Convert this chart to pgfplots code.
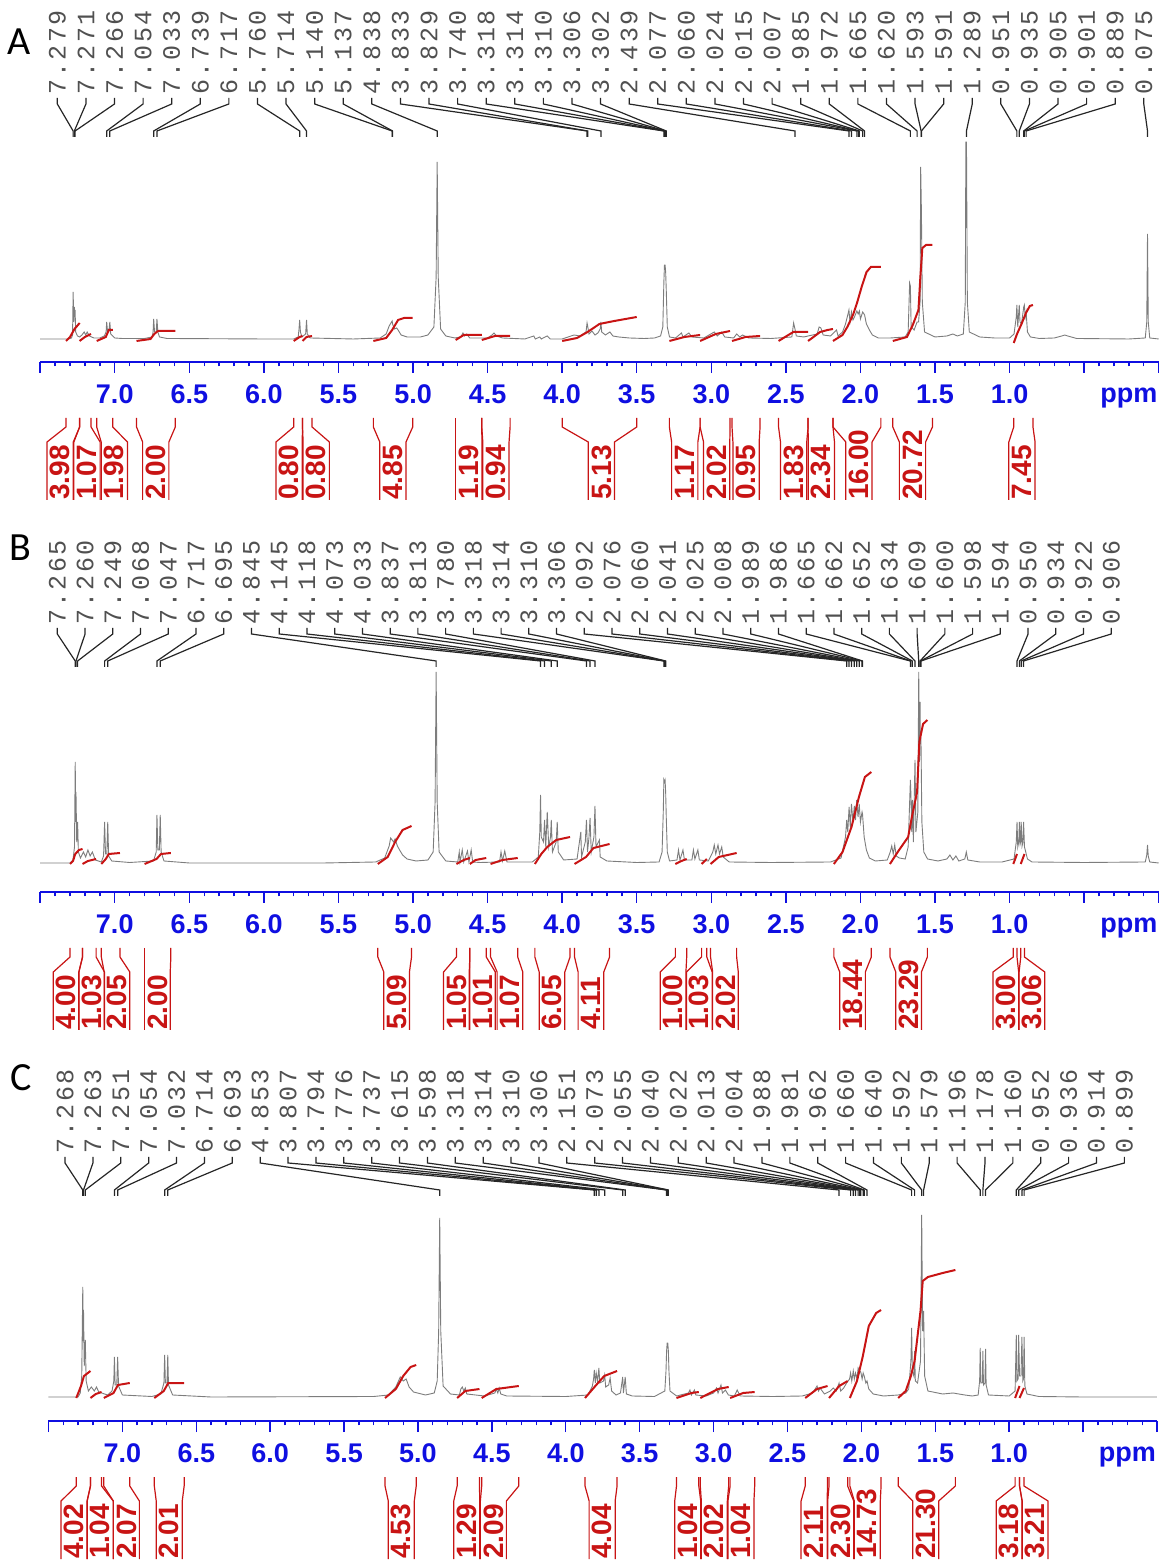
\documentclass[border=0pt]{standalone}
\usepackage{fontspec}
\setmainfont{Liberation Sans}
\newfontfamily\lblfont{Liberation Mono}
\newfontfamily\letterf{Carlito}
\usepackage{pgfplots}
\pgfplotsset{compat=1.18}
\definecolor{axblue}{RGB}{15,15,225}
\definecolor{intred}{RGB}{200,20,20}
\definecolor{specgray}{RGB}{125,125,125}
\definecolor{lblgray}{RGB}{80,80,80}
\newcommand\ticklblfont{\bfseries\fontsize{13.5}{15}\selectfont}
\newcommand\pkc[1]{\makebox[8.6pt]{#1}}
\def\pkk#1#2#3#4#5{\pkc{#1}\pkc{#2}\pkc{#3}\pkc{#4}\pkc{#5}}
\newcommand\pk[1]{\pkk#1}
\tikzset{
 conn/.style={black!85, line width=0.6pt},
 plbl/.style={rotate=90, anchor=west, inner sep=0pt, font=\lblfont\fontsize{12.5}{12.5}\selectfont, text=lblgray},
 ibr/.style={intred, line width=0.6pt},
 ilbl/.style={rotate=90, anchor=west, inner sep=0pt, font=\bfseries\fontsize{14}{14}\selectfont, text=intred},
}
% peak label: #1 index, #2 ppm
\newcommand\pkl[2]{%
 \pgfmathsetmacro\lx{\Lzero-#1*\Lstep}%
 \edef\tmp{\noexpand\draw[conn] (axis cs:\lx,264) -- (axis cs:\lx,258) -- (axis cs:#2,231) -- (axis cs:#2,225);
 \noexpand\node[plbl] at (axis cs:\lx,266) {\noexpand\pk{#2}};}\tmp}
% integral bracket: #1 left ppm, #2 right ppm, #3 box centre, #4 value
\newcommand\intg[4]{%
 \pgfmathsetmacro\bl{#3+\bw}\pgfmathsetmacro\br{#3-\bw}%
 \edef\tmp{\noexpand\draw[ibr] (axis cs:#1,-56) -- (axis cs:#1,-65) -- (axis cs:\bl,-80) -- (axis cs:\bl,-138);
 \noexpand\draw[ibr] (axis cs:#2,-56) -- (axis cs:#2,-65) -- (axis cs:\br,-80) -- (axis cs:\br,-138);
 \noexpand\node[ilbl] at (axis cs:#3,-138) {#4};}\tmp}
\pgfplotsset{nmr/.style={
  scale only axis, anchor=south west, height=115pt,
  xmin=0, xmax=7.5, ymin=0, ymax=230, x dir=reverse,
  axis x line*=bottom, axis y line=none, clip=false,
  x axis line style={axblue, line width=0.9pt},
  xtick={0,0.5,1,1.5,2,2.5,3,3.5,4,4.5,5,5.5,6,6.5,7,7.5},
  xticklabels={,,1.0,1.5,2.0,2.5,3.0,3.5,4.0,4.5,5.0,5.5,6.0,6.5,7.0,},
  minor x tick num=4,
  xtick align=outside,
  major tick length=5.5pt, minor tick length=2.2pt,
  tick style={axblue, line width=0.7pt},
  xticklabel style={font=\ticklblfont, text=axblue, anchor=center, yshift=-10.5pt},
}}
\begin{document}
\begin{tikzpicture}
\useasboundingbox (0,0) rectangle (582pt,784pt);
\node[font=\letterf\fontsize{20}{20}\selectfont] at (9.5pt,763pt) {A};
\node[font=\letterf\fontsize{20}{20}\selectfont] at (10pt,510pt) {B};
\node[font=\letterf\fontsize{20}{20}\selectfont] at (10.5pt,245pt) {C};

% ================= PANEL A =================
\begin{axis}[nmr, at={(20.1pt,603pt)}, width=559.25pt]
\addplot[specgray, line width=0.45pt] coordinates {
(7.5,23)(7.31,23)(7.29,24)(7.283,27)(7.279,70)(7.275,40)(7.271,55)(7.268,45)(7.266,52)(7.262,30)(7.25,26)(7.235,25)(7.22,27)(7.205,30)(7.195,27)(7.185,30)(7.17,26)(7.14,24)(7.10,24)(7.07,26)(7.058,30)(7.054,40)(7.048,30)(7.040,30)(7.033,40)(7.027,28)(7.00,24)(6.95,23.5)(6.80,23.5)(6.75,25)(6.743,30)(6.739,43)(6.733,30)(6.722,30)(6.717,43)(6.711,30)(6.70,25)(6.65,23.5)(6.0,23)(5.80,23)(5.77,25)(5.765,32)(5.760,42)(5.755,30)(5.745,25)(5.72,28)(5.714,42)(5.709,28)(5.69,24)(5.40,23)(5.22,24)(5.18,28)(5.16,36)(5.14,41)(5.137,38)(5.125,33)(5.11,34)(5.10,32)(5.08,27)(5.04,25)(4.95,25)(4.90,27)(4.86,35)(4.845,85)(4.838,200)(4.831,85)(4.815,33)(4.78,26)(4.72,24)(4.68,25)(4.665,29)(4.655,26)(4.64,28)(4.62,24)(4.5,24)(4.47,27)(4.457,29)(4.44,26)(4.40,24)(4.25,23)(4.19,26)(4.18,23)(4.15,25)(4.14,23)(4.10,26)(4.08,23)(4.0,23)(3.96,25)(3.92,27)(3.88,26)(3.84,30)(3.833,39)(3.829,36)(3.82,28)(3.80,31)(3.78,27)(3.76,29)(3.745,33)(3.740,40)(3.735,30)(3.71,27)(3.68,30)(3.66,26)(3.62,25)(3.55,24)(3.45,23.5)(3.38,24)(3.34,26)(3.325,35)(3.318,80)(3.314,97)(3.310,97)(3.306,90)(3.302,72)(3.295,35)(3.28,25)(3.24,24)(3.20,29)(3.19,25)(3.15,29)(3.13,25)(3.05,24)(2.98,30)(2.96,26)(2.93,30)(2.91,25)(2.85,24)(2.83,28)(2.81,25)(2.79,27)(2.75,24)(2.6,23.5)(2.46,25)(2.448,39)(2.439,33)(2.43,26)(2.38,25)(2.29,28)(2.277,35)(2.265,34)(2.25,27)(2.20,26)(2.16,32)(2.15,26)(2.12,30)(2.10,38)(2.09,44)(2.077,52)(2.07,40)(2.060,50)(2.05,42)(2.04,45)(2.024,51)(2.015,48)(2.007,51)(2.00,43)(1.985,50)(1.972,47)(1.96,38)(1.94,32)(1.92,27)(1.88,24)(1.80,24)(1.70,25)(1.68,30)(1.670,79)(1.665,76)(1.66,35)(1.64,32)(1.625,38)(1.620,40)(1.61,40)(1.60,60)(1.596,195)(1.591,150)(1.585,60)(1.57,30)(1.50,25)(1.42,26)(1.38,28)(1.35,26)(1.31,28)(1.297,60)(1.293,220)(1.289,220)(1.283,60)(1.27,30)(1.20,25)(1.10,24)(1.0,24)(0.97,28)(0.955,45)(0.951,57)(0.945,35)(0.935,57)(0.93,40)(0.92,38)(0.905,55)(0.901,57)(0.895,45)(0.889,50)(0.88,30)(0.86,25)(0.80,23.5)(0.70,24)(0.65,26)(0.63,27)(0.61,26)(0.55,23.5)(0.2,23)(0.09,24)(0.08,40)(0.075,128)(0.070,40)(0.06,24)(0.0,23)};
\addplot[intred, line width=1pt] coordinates {(7.327,21)(7.30,25)(7.27,33)(7.235,39)};
\addplot[intred, line width=1pt] coordinates {(7.236,21)(7.20,25)(7.159,28)};
\addplot[intred, line width=1pt] coordinates {(7.121,21)(7.06,25)(7.04,32)(7.013,32)};
\addplot[intred, line width=1pt] coordinates {(6.854,21)(6.76,23)(6.735,28)(6.71,31)(6.65,31)(6.594,31)};
\addplot[intred, line width=1pt] coordinates {(5.80,21)(5.76,25)(5.741,26)};
\addplot[intred, line width=1pt] coordinates {(5.741,21)(5.714,25)(5.677,26)};
\addplot[intred, line width=1pt] coordinates {(5.266,21)(5.18,24)(5.14,32)(5.10,42)(5.06,44)(5.002,44)};
\addplot[intred, line width=1pt] coordinates {(4.714,22)(4.66,27)(4.60,27)(4.539,27)};
\addplot[intred, line width=1pt] coordinates {(4.539,22)(4.45,26)(4.349,26)};
\addplot[intred, line width=1pt] coordinates {(4.0,21)(3.9,24)(3.83,30)(3.75,38)(3.65,41)(3.5,45)};
\addplot[intred, line width=1pt] coordinates {(3.281,21)(3.18,25)(3.075,27)};
\addplot[intred, line width=1pt] coordinates {(3.075,21)(2.97,28)(2.874,31)};
\addplot[intred, line width=1pt] coordinates {(2.861,21)(2.77,25)(2.673,26)};
\addplot[intred, line width=1pt] coordinates {(2.549,21)(2.45,30)(2.40,30)(2.351,30)};
\addplot[intred, line width=1pt] coordinates {(2.351,21)(2.27,30)(2.22,32)(2.184,33)};
\addplot[intred, line width=1pt] coordinates {(2.184,21)(2.12,27)(2.088,35)(2.05,47)(2.023,59)(1.99,76)(1.959,90)(1.93,95)(1.863,95)};
\addplot[intred, line width=1pt] coordinates {(1.783,21)(1.688,25)(1.649,37)(1.611,52)(1.598,85)(1.585,114)(1.56,117)(1.517,117)};
\addplot[intred, line width=1pt] coordinates {(0.972,19)(0.95,28)(0.92,38)(0.89,49)(0.864,56)(0.843,57)};
\def\Lzero{7.385}\def\Lstep{0.19171}
\pkl{0}{7.279}\pkl{1}{7.271}\pkl{2}{7.266}\pkl{3}{7.054}\pkl{4}{7.033}\pkl{5}{6.739}\pkl{6}{6.717}\pkl{7}{5.760}\pkl{8}{5.714}\pkl{9}{5.140}\pkl{10}{5.137}\pkl{11}{4.838}\pkl{12}{3.833}\pkl{13}{3.829}\pkl{14}{3.740}\pkl{15}{3.318}\pkl{16}{3.314}\pkl{17}{3.310}\pkl{18}{3.306}\pkl{19}{3.302}\pkl{20}{2.439}\pkl{21}{2.077}\pkl{22}{2.060}\pkl{23}{2.024}\pkl{24}{2.015}\pkl{25}{2.007}\pkl{26}{1.985}\pkl{27}{1.972}\pkl{28}{1.665}\pkl{29}{1.620}\pkl{30}{1.593}\pkl{31}{1.591}\pkl{32}{1.289}\pkl{33}{0.951}\pkl{34}{0.935}\pkl{35}{0.905}\pkl{36}{0.901}\pkl{37}{0.889}\pkl{38}{0.075}
\def\bw{0.088}
\intg{7.327}{7.235}{7.366}{3.98}
\intg{7.236}{7.159}{7.186}{1.07}
\intg{7.121}{7.013}{7.003}{1.98}
\intg{6.854}{6.594}{6.725}{2.00}
\intg{5.800}{5.741}{5.831}{0.80}
\intg{5.741}{5.677}{5.649}{0.80}
\intg{5.266}{5.002}{5.135}{4.85}
\intg{4.714}{4.539}{4.626}{1.19}
\intg{4.539}{4.349}{4.444}{0.94}
\intg{4.000}{3.500}{3.737}{5.13}
\intg{3.281}{3.075}{3.178}{1.17}
\intg{3.075}{2.874}{2.964}{2.02}
\intg{2.861}{2.673}{2.767}{0.95}
\intg{2.549}{2.351}{2.448}{1.83}
\intg{2.351}{2.184}{2.262}{2.34}
\intg{2.184}{1.863}{2.010}{16.00}
\intg{1.783}{1.517}{1.651}{20.72}
\intg{0.972}{0.843}{0.917}{7.45}
\node[font=\ticklblfont, text=axblue] at (axis cs:0.2,-36) {ppm};
\end{axis}

% ================= PANEL B =================
\begin{axis}[nmr, at={(20.1pt,338pt)}, width=559.25pt]
\addplot[specgray, line width=0.45pt] coordinates {
(7.5,29)(7.30,29)(7.28,32)(7.27,45)(7.265,130)(7.262,70)(7.260,100)(7.255,50)(7.249,70)(7.244,40)(7.23,34)(7.21,40)(7.195,35)(7.18,42)(7.165,36)(7.15,40)(7.13,32)(7.09,30)(7.075,36)(7.068,70)(7.062,38)(7.053,38)(7.047,70)(7.041,36)(7.02,31)(6.9,29.5)(6.74,31)(6.722,40)(6.717,77)(6.711,42)(6.701,42)(6.695,77)(6.689,40)(6.67,31)(6.5,29)(5.6,29)(5.25,30)(5.19,34)(5.16,46)(5.15,54)(5.13,50)(5.12,53)(5.105,46)(5.09,42)(5.07,37)(5.04,33)(4.98,31)(4.90,32)(4.865,40)(4.852,90)(4.845,220)(4.838,90)(4.825,40)(4.78,31)(4.70,30)(4.69,40)(4.685,30)(4.67,42)(4.66,30)(4.635,41)(4.625,30)(4.61,42)(4.60,30)(4.55,29.5)(4.42,30)(4.41,40)(4.40,31)(4.385,41)(4.37,30)(4.20,30)(4.16,35)(4.150,60)(4.145,97)(4.140,55)(4.125,50)(4.118,72)(4.110,45)(4.10,80)(4.09,45)(4.078,55)(4.073,72)(4.065,40)(4.04,50)(4.033,70)(4.026,40)(3.99,32)(3.90,33)(3.875,60)(3.870,35)(3.845,50)(3.837,72)(3.83,40)(3.82,55)(3.813,74)(3.805,40)(3.787,55)(3.780,86)(3.773,45)(3.75,52)(3.745,35)(3.70,31)(3.50,29.5)(3.35,30)(3.33,40)(3.322,80)(3.318,112)(3.314,110)(3.310,112)(3.306,100)(3.302,75)(3.295,40)(3.28,31)(3.23,32)(3.22,42)(3.21,32)(3.19,42)(3.18,32)(3.13,32)(3.12,42)(3.11,33)(3.09,42)(3.08,32)(3.02,31)(2.99,40)(2.98,47)(2.97,38)(2.955,47)(2.945,38)(2.93,45)(2.92,35)(2.88,30)(2.6,29.5)(2.2,30)(2.13,34)(2.10,55)(2.092,72)(2.085,60)(2.076,85)(2.068,65)(2.060,88)(2.050,70)(2.041,86)(2.033,72)(2.025,92)(2.016,75)(2.008,88)(2.0,70)(1.989,80)(1.986,78)(1.975,55)(1.96,42)(1.94,34)(1.90,31)(1.82,32)(1.80,40)(1.79,46)(1.78,38)(1.77,47)(1.76,36)(1.74,34)(1.70,33)(1.68,45)(1.665,112)(1.662,100)(1.656,60)(1.652,92)(1.645,50)(1.634,132)(1.628,60)(1.615,80)(1.609,220)(1.604,130)(1.600,190)(1.598,150)(1.594,152)(1.588,70)(1.575,40)(1.55,33)(1.48,31)(1.42,33)(1.40,37)(1.38,32)(1.36,36)(1.34,31)(1.30,33)(1.29,40)(1.28,32)(1.20,30)(1.05,30)(0.97,33)(0.955,50)(0.950,70)(0.945,45)(0.938,50)(0.934,70)(0.929,48)(0.926,50)(0.922,70)(0.916,46)(0.910,50)(0.906,70)(0.900,45)(0.88,33)(0.85,30)(0.5,29.5)(0.09,30)(0.08,37)(0.075,47)(0.07,36)(0.06,30)(0.0,29)};
\addplot[intred, line width=1pt] coordinates {(7.30,28)(7.28,31)(7.265,38)(7.24,42)(7.216,43)};
\addplot[intred, line width=1pt] coordinates {(7.216,28)(7.18,31)(7.125,33)};
\addplot[intred, line width=1pt] coordinates {(7.09,28)(7.06,33)(7.04,38)(6.965,39)};
\addplot[intred, line width=1pt] coordinates {(6.80,28)(6.72,33)(6.69,38)(6.624,39)};
\addplot[intred, line width=1pt] coordinates {(5.236,28)(5.17,35)(5.12,50)(5.07,62)(5.01,66)};
\addplot[intred, line width=1pt] coordinates {(4.709,28)(4.66,32)(4.619,34)};
\addplot[intred, line width=1pt] coordinates {(4.619,28)(4.58,32)(4.509,34)};
\addplot[intred, line width=1pt] coordinates {(4.48,28)(4.40,32)(4.298,34)};
\addplot[intred, line width=1pt] coordinates {(4.183,28)(4.14,38)(4.10,45)(4.04,52)(3.947,55)};
\addplot[intred, line width=1pt] coordinates {(3.917,28)(3.84,35)(3.79,44)(3.682,48)};
\addplot[intred, line width=1pt] coordinates {(3.241,28)(3.20,31)(3.165,33)};
\addplot[intred, line width=1pt] coordinates {(3.065,28)(3.03,33)};
\addplot[intred, line width=1pt] coordinates {(3.005,28)(2.95,35)(2.83,39)};
\addplot[intred, line width=1pt] coordinates {(2.178,28)(2.12,40)(2.06,65)(2.01,95)(1.97,115)(1.927,120)};
\addplot[intred, line width=1pt] coordinates {(1.802,28)(1.75,40)(1.68,55)(1.655,75)(1.62,100)(1.605,150)(1.58,168)(1.551,172)};
\addplot[intred, line width=1pt] coordinates {(0.975,28)(0.950,38)};
\addplot[intred, line width=1pt] coordinates {(0.925,28)(0.900,38)};
\def\Lzero{7.385}\def\Lstep{0.18597}
\pkl{0}{7.265}\pkl{1}{7.260}\pkl{2}{7.249}\pkl{3}{7.068}\pkl{4}{7.047}\pkl{5}{6.717}\pkl{6}{6.695}\pkl{7}{4.845}\pkl{8}{4.145}\pkl{9}{4.118}\pkl{10}{4.073}\pkl{11}{4.033}\pkl{12}{3.837}\pkl{13}{3.813}\pkl{14}{3.780}\pkl{15}{3.318}\pkl{16}{3.314}\pkl{17}{3.310}\pkl{18}{3.306}\pkl{19}{2.092}\pkl{20}{2.076}\pkl{21}{2.060}\pkl{22}{2.041}\pkl{23}{2.025}\pkl{24}{2.008}\pkl{25}{1.989}\pkl{26}{1.986}\pkl{27}{1.665}\pkl{28}{1.662}\pkl{29}{1.652}\pkl{30}{1.634}\pkl{31}{1.609}\pkl{32}{1.600}\pkl{33}{1.598}\pkl{34}{1.594}\pkl{35}{0.950}\pkl{36}{0.934}\pkl{37}{0.922}\pkl{38}{0.906}
\def\bw{0.086}
\intg{7.300}{7.216}{7.326}{4.00}
\intg{7.216}{7.125}{7.155}{1.03}
\intg{7.090}{6.965}{6.985}{2.05}
\intg{6.800}{6.624}{6.714}{2.00}
\intg{5.236}{5.010}{5.110}{5.09}
\intg{4.709}{4.619}{4.709}{1.05}
\intg{4.619}{4.509}{4.534}{1.01}
\intg{4.480}{4.298}{4.350}{1.07}
\intg{4.183}{3.947}{4.068}{6.05}
\intg{3.917}{3.682}{3.807}{4.11}
\intg{3.241}{3.165}{3.256}{1.00}
\intg{3.065}{3.030}{3.080}{1.03}
\intg{3.005}{2.830}{2.905}{2.02}
\intg{2.178}{1.927}{2.053}{18.44}
\intg{1.802}{1.551}{1.677}{23.29}
\intg{0.975}{0.950}{1.025}{3.00}
\intg{0.925}{0.900}{0.850}{3.06}
\node[font=\ticklblfont, text=axblue] at (axis cs:0.2,-36) {ppm};
\end{axis}

% ================= PANEL C =================
\begin{axis}[nmr, at={(24.25pt,73.5pt)}, width=554.25pt]
\addplot[specgray, line width=0.45pt] coordinates {
(7.5,24)(7.30,24)(7.285,28)(7.275,45)(7.268,134)(7.265,80)(7.263,111)(7.258,55)(7.251,81)(7.245,40)(7.23,30)(7.21,34)(7.19,30)(7.175,34)(7.16,29)(7.10,26)(7.07,30)(7.058,40)(7.054,64)(7.049,36)(7.038,36)(7.032,64)(7.026,35)(7.0,26)(6.8,24.5)(6.74,27)(6.719,38)(6.714,66)(6.709,38)(6.698,38)(6.693,66)(6.688,36)(6.66,26)(6.4,24)(5.3,24.5)(5.2,26)(5.15,34)(5.12,44)(5.10,40)(5.08,42)(5.06,34)(5.03,29)(4.95,26)(4.89,28)(4.87,40)(4.860,90)(4.853,203)(4.846,90)(4.83,35)(4.78,27)(4.72,26)(4.71,32)(4.70,34)(4.69,30)(4.68,33)(4.67,27)(4.55,25)(4.48,28)(4.47,32)(4.46,28)(4.45,33)(4.44,27)(4.40,25)(4.0,24.5)(3.85,26)(3.82,35)(3.812,42)(3.807,51)(3.80,38)(3.794,48)(3.785,40)(3.776,53)(3.77,38)(3.745,40)(3.737,46)(3.73,34)(3.71,36)(3.70,43)(3.69,30)(3.66,26)(3.63,28)(3.615,44)(3.61,28)(3.598,44)(3.59,27)(3.55,25)(3.40,24.5)(3.33,30)(3.322,50)(3.318,70)(3.314,78)(3.310,78)(3.306,70)(3.302,50)(3.295,30)(3.25,25)(3.17,28)(3.16,31)(3.15,26)(3.13,31)(3.12,26)(3.05,25)(3.00,28)(2.98,33)(2.97,28)(2.95,36)(2.94,28)(2.92,31)(2.90,26)(2.86,25)(2.84,31)(2.82,25)(2.6,24.5)(2.40,25)(2.33,28)(2.30,35)(2.29,30)(2.28,33)(2.25,27)(2.21,30)(2.19,33)(2.17,30)(2.151,38)(2.14,30)(2.12,33)(2.10,38)(2.08,42)(2.073,48)(2.065,40)(2.055,50)(2.048,42)(2.040,48)(2.03,42)(2.022,53)(2.013,50)(2.004,49)(1.995,42)(1.988,48)(1.981,45)(1.97,38)(1.962,40)(1.95,32)(1.92,27)(1.85,25)(1.75,26)(1.70,28)(1.68,32)(1.665,60)(1.660,93)(1.655,50)(1.645,45)(1.640,70)(1.635,40)(1.62,38)(1.60,60)(1.592,206)(1.586,90)(1.579,110)(1.572,45)(1.55,30)(1.45,27)(1.38,28)(1.30,26)(1.25,25)(1.21,26)(1.20,40)(1.196,73)(1.192,38)(1.182,38)(1.178,70)(1.174,36)(1.164,38)(1.160,72)(1.156,36)(1.14,26)(1.0,25)(0.96,30)(0.952,86)(0.948,40)(0.940,42)(0.936,86)(0.930,45)(0.920,45)(0.914,84)(0.908,40)(0.903,42)(0.899,84)(0.894,35)(0.88,27)(0.80,24.5)(0.5,24)(0.0,24)};
\addplot[intred, line width=1pt] coordinates {(7.312,23)(7.28,35)(7.26,45)(7.216,50)};
\addplot[intred, line width=1pt] coordinates {(7.216,23)(7.18,27)(7.141,29)};
\addplot[intred, line width=1pt] coordinates {(7.126,23)(7.06,28)(7.03,36)(6.95,38)};
\addplot[intred, line width=1pt] coordinates {(6.784,23)(6.72,30)(6.69,38)(6.582,38)};
\addplot[intred, line width=1pt] coordinates {(5.223,23)(5.15,32)(5.10,45)(5.05,54)(5.012,56)};
\addplot[intred, line width=1pt] coordinates {(4.735,23)(4.68,30)(4.584,32)};
\addplot[intred, line width=1pt] coordinates {(4.569,23)(4.47,32)(4.318,35)};
\addplot[intred, line width=1pt] coordinates {(3.87,23)(3.80,35)(3.74,45)(3.653,50)};
\addplot[intred, line width=1pt] coordinates {(3.251,23)(3.15,28)(3.10,29)};
\addplot[intred, line width=1pt] coordinates {(3.09,23)(2.97,32)(2.898,34)};
\addplot[intred, line width=1pt] coordinates {(2.888,23)(2.80,28)(2.722,29)};
\addplot[intred, line width=1pt] coordinates {(2.38,23)(2.30,32)(2.229,35)};
\addplot[intred, line width=1pt] coordinates {(2.219,23)(2.15,35)(2.093,40)};
\addplot[intred, line width=1pt] coordinates {(2.078,23)(2.03,40)(1.99,65)(1.95,95)(1.90,108)(1.867,111)};
\addplot[intred, line width=1pt] coordinates {(1.751,23)(1.70,30)(1.665,45)(1.64,60)(1.60,110)(1.585,140)(1.55,144)(1.45,148)(1.364,151)};
\addplot[intred, line width=1pt] coordinates {(0.96,23)(0.93,35)};
\addplot[intred, line width=1pt] coordinates {(0.93,23)(0.90,33)};
\def\Lzero{7.388}\def\Lstep{0.18861}
\pkl{0}{7.268}\pkl{1}{7.263}\pkl{2}{7.251}\pkl{3}{7.054}\pkl{4}{7.032}\pkl{5}{6.714}\pkl{6}{6.693}\pkl{7}{4.853}\pkl{8}{3.807}\pkl{9}{3.794}\pkl{10}{3.776}\pkl{11}{3.737}\pkl{12}{3.615}\pkl{13}{3.598}\pkl{14}{3.318}\pkl{15}{3.314}\pkl{16}{3.310}\pkl{17}{3.306}\pkl{18}{2.151}\pkl{19}{2.073}\pkl{20}{2.055}\pkl{21}{2.040}\pkl{22}{2.022}\pkl{23}{2.013}\pkl{24}{2.004}\pkl{25}{1.988}\pkl{26}{1.981}\pkl{27}{1.962}\pkl{28}{1.660}\pkl{29}{1.640}\pkl{30}{1.592}\pkl{31}{1.579}\pkl{32}{1.196}\pkl{33}{1.178}\pkl{34}{1.160}\pkl{35}{0.952}\pkl{36}{0.936}\pkl{37}{0.914}\pkl{38}{0.899}
\def\bw{0.088}
\intg{7.312}{7.216}{7.327}{4.02}
\intg{7.216}{7.141}{7.150}{1.04}
\intg{7.126}{6.950}{6.973}{2.07}
\intg{6.784}{6.582}{6.683}{2.01}
\intg{5.223}{5.012}{5.113}{4.53}
\intg{4.735}{4.584}{4.670}{1.29}
\intg{4.569}{4.318}{4.490}{2.09}
\intg{3.870}{3.653}{3.754}{4.04}
\intg{3.251}{3.100}{3.175}{1.04}
\intg{3.090}{2.898}{2.995}{2.02}
\intg{2.888}{2.722}{2.815}{1.04}
\intg{2.380}{2.229}{2.320}{2.11}
\intg{2.219}{2.093}{2.140}{2.30}
\intg{2.078}{1.867}{1.960}{14.73}
\intg{1.751}{1.364}{1.565}{21.30}
\intg{0.960}{0.930}{1.000}{3.18}
\intg{0.930}{0.900}{0.825}{3.21}
\node[font=\ticklblfont, text=axblue] at (axis cs:0.2,-36) {ppm};
\end{axis}
\end{tikzpicture}
\end{document}
